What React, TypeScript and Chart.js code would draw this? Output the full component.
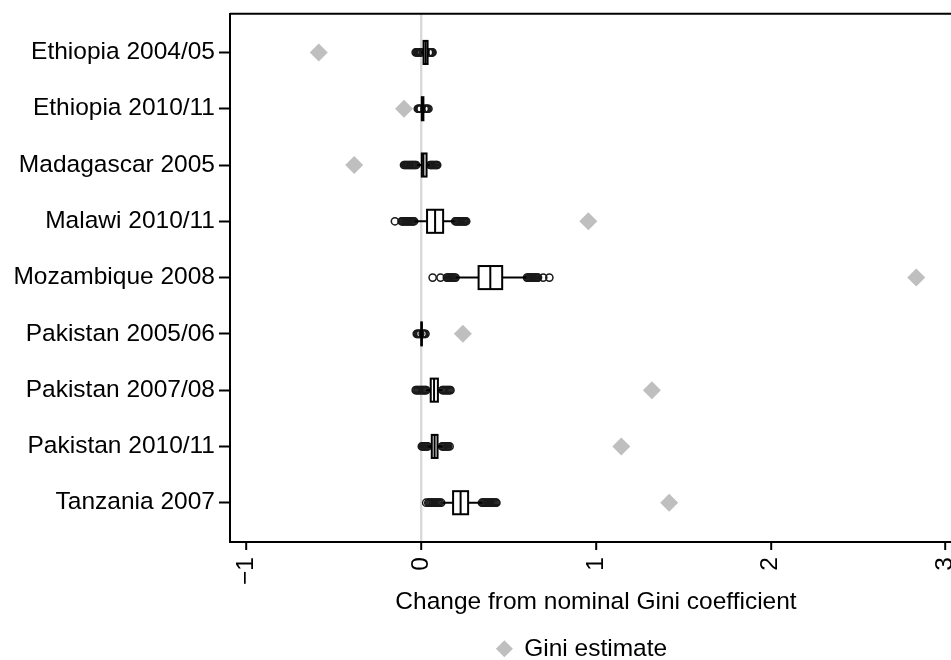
import React, { useEffect, useRef } from 'react';
import { Chart, registerables } from 'chart.js';

Chart.register(...registerables);

const categories = [
  'Ethiopia 2004/05',
  'Ethiopia 2010/11',
  'Madagascar 2005',
  'Malawi 2010/11',
  'Mozambique 2008',
  'Pakistan 2005/06',
  'Pakistan 2007/08',
  'Pakistan 2010/11',
  'Tanzania 2007',
];

const giniEstimate = [-0.587, -0.099, -0.384, 0.956, 2.833, 0.238, 1.32, 1.145, 1.419];

const boxQ1 = [0.013, 0.003, 0.003, 0.033, 0.328, 0.0, 0.054, 0.06, 0.182];
const boxMedian = [0.025, 0.007, 0.012, 0.079, 0.395, 0.002, 0.073, 0.076, 0.225];
const boxQ3 = [0.036, 0.012, 0.03, 0.125, 0.463, 0.003, 0.095, 0.093, 0.268];
const whiskerLow = [0.0, -0.004, -0.025, -0.035, 0.2, -0.006, 0.028, 0.037, 0.125];
const whiskerHigh = [0.044, 0.02, 0.048, 0.19, 0.6, 0.008, 0.121, 0.119, 0.345];

const outliers: number[][] = [
  [-0.032, -0.027, -0.022, -0.018, -0.013, -0.009, -0.004, 0.0, 0.044, 0.048, 0.052, 0.057, 0.061, 0.064],
  [-0.02, -0.016, -0.012, -0.008, -0.004, 0.02, 0.025, 0.03, 0.035, 0.041],
  [-0.099, -0.094, -0.088, -0.083, -0.077, -0.072, -0.066, -0.061, -0.055, -0.05, -0.045, -0.04, -0.034, -0.029,
    0.05, 0.055, 0.06, 0.066, 0.071, 0.077, 0.083, 0.088, 0.091],
  [-0.151, -0.113, -0.108, -0.103, -0.097, -0.092, -0.086, -0.081, -0.075, -0.07, -0.064, -0.058, -0.052, -0.047, -0.041,
    0.194, 0.2, 0.205, 0.211, 0.217, 0.223, 0.229, 0.235, 0.241, 0.246, 0.252, 0.257],
  [0.065, 0.11, 0.146, 0.152, 0.158, 0.164, 0.17, 0.176, 0.182, 0.188, 0.196,
    0.605, 0.611, 0.617, 0.623, 0.629, 0.635, 0.64, 0.646, 0.652, 0.658, 0.664, 0.668, 0.698, 0.733],
  [-0.026, -0.021, -0.016, -0.011, -0.006, 0.008, 0.013, 0.018, 0.024],
  [-0.032, -0.027, -0.021, -0.016, -0.01, -0.004, 0.002, 0.008, 0.013, 0.019, 0.024, 0.028,
    0.121, 0.126, 0.132, 0.138, 0.144, 0.15, 0.156, 0.162, 0.167],
  [0.003, 0.009, 0.015, 0.02, 0.026, 0.032, 0.037, 0.119, 0.125, 0.13, 0.136, 0.142, 0.148, 0.154, 0.162],
  [0.028, 0.04, 0.046, 0.052, 0.058, 0.064, 0.07, 0.076, 0.082, 0.088, 0.094, 0.1, 0.106, 0.114,
    0.347, 0.353, 0.359, 0.365, 0.371, 0.377, 0.383, 0.389, 0.395, 0.401, 0.407, 0.413, 0.419, 0.425, 0.43],
];

const xTicks = [-1, 0, 1, 2, 3];
const xTitle = 'Change from nominal Gini coefficient';
const legendLabel = 'Gini estimate';

const FONT = "'Liberation Sans', Arial, Helvetica, sans-serif";
const FS = 24.5;
const BOX_HALF = 0.205;

const boxPlugin = {
  id: 'boxPlugin',
  beforeDatasetsDraw(chart: any) {
    const { ctx, chartArea } = chart;
    ctx.save();
    ctx.strokeStyle = '#000';
    ctx.lineWidth = 2;
    ctx.beginPath();
    ctx.moveTo(chartArea.left, chartArea.top);
    ctx.lineTo(chartArea.right, chartArea.top);
    ctx.lineTo(chartArea.right, chartArea.bottom);
    ctx.stroke();
    ctx.restore();
  },
  afterDatasetsDraw(chart: any) {
    const { ctx } = chart;
    const xs = chart.scales.x;
    const ys = chart.scales.y;
    ctx.save();
    ctx.strokeStyle = '#000';
    ctx.lineWidth = 2;
    categories.forEach((_, i) => {
      const y = ys.getPixelForValue(i);
      const h = Math.abs(ys.getPixelForValue(i + BOX_HALF) - y);
      const wl = xs.getPixelForValue(whiskerLow[i]);
      const wh = xs.getPixelForValue(whiskerHigh[i]);
      const q1 = xs.getPixelForValue(boxQ1[i]);
      const q3 = xs.getPixelForValue(boxQ3[i]);
      const md = xs.getPixelForValue(boxMedian[i]);
      ctx.beginPath();
      ctx.moveTo(wl, y);
      ctx.lineTo(q1, y);
      ctx.moveTo(q3, y);
      ctx.lineTo(wh, y);
      ctx.stroke();
      ctx.fillStyle = '#fff';
      ctx.fillRect(q1, y - h, q3 - q1, 2 * h);
      ctx.strokeRect(q1, y - h, q3 - q1, 2 * h);
      ctx.beginPath();
      ctx.moveTo(md, y - h);
      ctx.lineTo(md, y + h);
      ctx.stroke();
    });
    ctx.restore();
  },
};

export default function App() {
  const ref = useRef<HTMLCanvasElement | null>(null);
  useEffect(() => {
    if (!ref.current) return;
    Chart.defaults.font.family = FONT;
    Chart.defaults.color = '#000';
    const outlierPoints: { x: number; y: number }[] = [];
    outliers.forEach((arr, i) => arr.forEach((v) => outlierPoints.push({ x: v, y: i })));
    const chart = new Chart(ref.current, {
      type: 'scatter',
      data: {
        datasets: [
          {
            label: legendLabel,
            data: giniEstimate.map((v, i) => ({ x: v, y: i })),
            pointStyle: 'rectRot',
            pointRadius: 9,
            pointBorderWidth: 0,
            backgroundColor: '#bfbfbf',
            borderColor: '#bfbfbf',
            borderWidth: 0,
          },
          {
            label: 'outliers',
            data: outlierPoints,
            pointStyle: 'circle',
            pointRadius: 3.6,
            pointBorderWidth: 1.5,
            backgroundColor: 'rgba(0,0,0,0)',
            borderColor: '#1a1a1a',
          },
        ],
      },
      options: {
        responsive: false,
        animation: false,
        layout: { padding: { left: 0, right: 0, top: 13, bottom: 0 } },
        plugins: {
          tooltip: { enabled: false },
          legend: {
            position: 'bottom',
            labels: {
              filter: (item: any) => item.datasetIndex === 0,
              usePointStyle: true,
              boxWidth: 15,
              boxHeight: 12,
              padding: 0,
              color: '#000',
              font: { size: FS, family: FONT },
            },
          },
        },
        scales: {
          x: {
            type: 'linear',
            min: -1.095,
            max: 3.095,
            afterBuildTicks: (s: any) => {
              s.ticks = xTicks.map((v) => ({ value: v }));
            },
            afterFit: (s: any) => {
              s.height = 94.5;
            },
            ticks: {
              autoSkip: false,
              minRotation: 90,
              maxRotation: 90,
              padding: 7,
              color: '#000',
              font: { size: FS, family: FONT },
              callback: (v: any) => (v < 0 ? '\u2212' + Math.abs(v) : String(v)),
            },
            grid: {
              drawOnChartArea: true,
              color: (c: any) => (c.tick && c.tick.value === 0 ? '#d9d9d9' : 'rgba(0,0,0,0)'),
              lineWidth: 2.4,
              tickColor: '#000',
              tickWidth: 2,
              tickLength: 8,
            },
            border: { display: true, color: '#000', width: 2 },
            title: {
              display: true,
              text: xTitle,
              color: '#000',
              font: { size: FS, family: FONT },
              padding: { top: 0, bottom: 20 },
            },
          },
          y: {
            type: 'linear',
            position: 'left',
            reverse: true,
            min: -0.6866,
            max: 8.698,
            afterBuildTicks: (s: any) => {
              s.ticks = categories.map((_, i) => ({ value: i }));
            },
            afterFit: (s: any) => {
              s.width = 230;
            },
            ticks: {
              autoSkip: false,
              padding: 4,
              color: '#000',
              font: { size: FS, family: FONT, lineHeight: 0.8 },
              callback: (v: any) => categories[v as number] ?? '',
            },
            grid: {
              drawOnChartArea: false,
              tickColor: '#000',
              tickWidth: 2,
              tickLength: 11,
            },
            border: { display: true, color: '#000', width: 2 },
          },
          ySpace: {
            type: 'linear',
            position: 'right',
            display: true,
            ticks: { display: false },
            grid: { display: false, drawTicks: false },
            border: { display: false },
            afterFit: (s: any) => {
              s.width = 202;
            },
          },
        },
      },
      plugins: [boxPlugin],
    } as any);
    return () => chart.destroy();
  }, []);
  return (
    <div style={{ position: 'absolute', left: 0, top: 0, width: 951, height: 660, overflow: 'hidden', background: '#fff' }}>
      <canvas ref={ref} width={1164} height={671} />
    </div>
  );
}
